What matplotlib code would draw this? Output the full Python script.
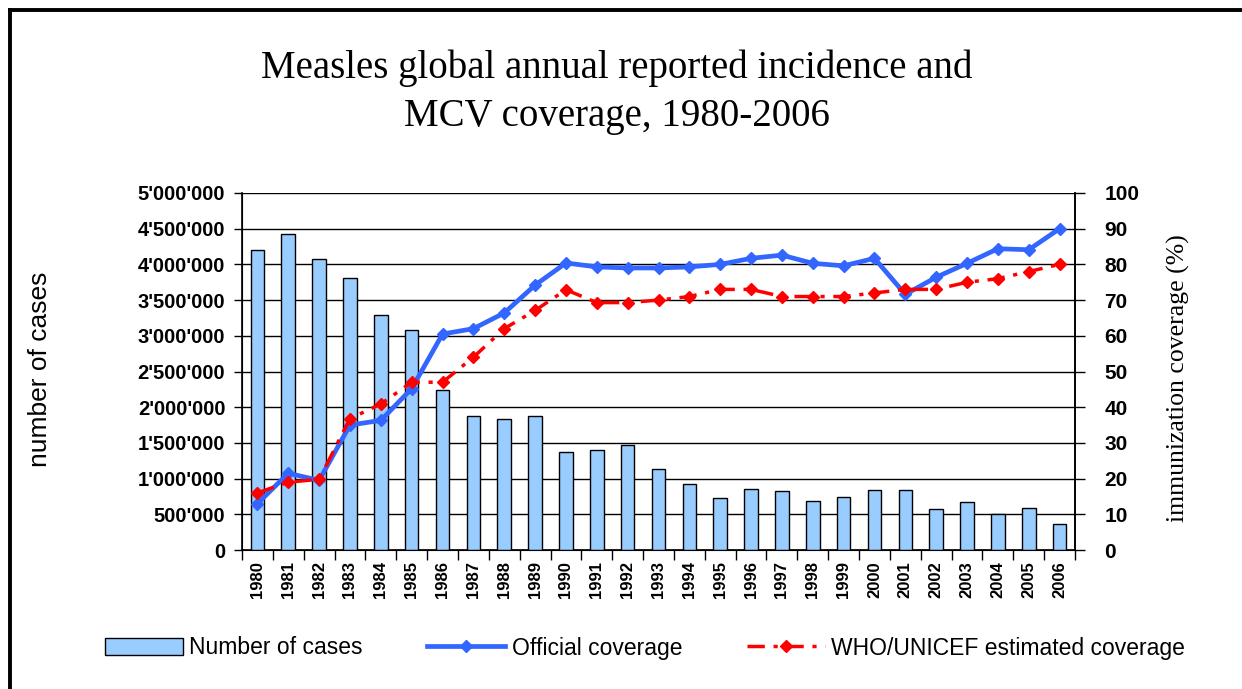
import matplotlib
matplotlib.use("Agg")
import matplotlib.pyplot as plt
import numpy as np
from matplotlib.lines import Line2D
from matplotlib.ticker import FuncFormatter, MultipleLocator, FixedLocator

years = [str(y) for y in range(1980, 2007)]
cases = [4200000, 4425000, 4080000, 3810000, 3285000, 3080000, 2235000, 1880000,
         1830000, 1880000, 1370000, 1400000, 1470000, 1130000, 930000, 725000,
         860000, 830000, 690000, 740000, 845000, 845000, 570000, 670000, 505000,
         590000, 370000]
official = [13, 21.5, 19.5, 35, 36.3, 45.2, 60.5, 62, 66.4, 74.2, 80.4, 79.3, 79,
            79, 79.3, 80, 81.7, 82.6, 80.3, 79.6, 81.7, 71.6, 76.4, 80.3, 84.4,
            84.1, 90]
who_unicef = [16, 19, 19.8, 36.8, 40.9, 47, 47, 54, 62, 67.1, 72.9, 69.3, 69.3,
              70, 71, 73, 73, 71, 71, 71, 72, 73, 73, 75, 76, 78, 80]

W, H = 1242, 689
fig = plt.figure(figsize=(W / 100, H / 100), dpi=100)
fig.patch.set_facecolor("white")

ax = fig.add_axes([242 / W, 1 - 550 / H, (1075 - 242) / W, (550 - 193) / H])
ax2 = ax.twinx()

x = np.arange(len(years))
bars = ax.bar(x, cases, width=0.44, color="#99CCFF", edgecolor="black",
              linewidth=1.0, zorder=3, label="Number of cases")
ax.set_ylim(0, 5000000)
ax.set_xlim(-0.5, len(years) - 0.5)
ax.yaxis.set_major_locator(MultipleLocator(500000))
ax.yaxis.set_major_formatter(FuncFormatter(lambda v, p: f"{int(v):,}".replace(",", "'")))
ax.grid(axis="y", color="black", linewidth=1.0, zorder=0)
ax.set_axisbelow(True)

# category boundary ticks, labels at centers
ax.xaxis.set_major_locator(FixedLocator(np.arange(-0.5, len(years), 1.0)))
ax.xaxis.set_major_formatter(FuncFormatter(lambda v, p: ""))
ax.xaxis.set_minor_locator(FixedLocator(x))
ax.set_xticks(x, minor=True)
ax.set_xticklabels(years, minor=True, rotation=90, fontsize=12,
                   fontweight="bold", family="Liberation Sans")
ax.tick_params(axis="x", which="major", direction="out", length=7, width=1)
ax.tick_params(axis="x", which="minor", length=0, pad=8)
ax.tick_params(axis="y", direction="out", length=6, width=1, pad=6)
for lbl in ax.get_yticklabels():
    lbl.set_fontsize(14.5)
    lbl.set_fontweight("bold")
    lbl.set_family("Liberation Sans")

for s in ["top"]:
    ax.spines[s].set_visible(False)
    ax2.spines[s].set_visible(False)
for s in ["left", "bottom", "right"]:
    ax.spines[s].set_linewidth(1.2)
ax2.spines["right"].set_linewidth(1.2)

l1, = ax2.plot(x, official, color="#3366FF", linewidth=3.4, marker="D",
               markersize=6, zorder=5, label="Official coverage")
l2, = ax2.plot(x, who_unicef, color="#FF0000", linewidth=2.5, marker="D",
               markersize=6, dashes=(5, 2.5, 1.2, 2.5), zorder=6,
               label="WHO/UNICEF estimated coverage")
ax2.set_ylim(0, 100)
ax2.yaxis.set_major_locator(MultipleLocator(10))
ax2.tick_params(axis="y", direction="out", length=7, width=1, pad=14)
for lbl in ax2.get_yticklabels():
    lbl.set_fontsize(15)
    lbl.set_fontweight("bold")
    lbl.set_family("Liberation Sans")
ax.set_zorder(1)
ax2.set_zorder(2)
ax.patch.set_visible(False)

fig.text(40 / W, 1 - 369 / H, "number of cases", rotation=90, ha="center",
         va="center", fontsize=19, family="Liberation Sans")
fig.text(1178 / W, 1 - 378 / H, "immunization coverage (%)", rotation=90,
         ha="center", va="center", fontsize=18.5, family="Liberation Serif")

fig.text(617 / W, 1 - 92 / H,
         "Measles global annual reported incidence and\nMCV coverage, 1980-2006",
         ha="center", va="center", fontsize=28, family="Liberation Serif",
         linespacing=1.4)

leg = fig.legend(handles=[bars, l1, l2], loc="center", ncol=3,
                 bbox_to_anchor=(645 / W, 1 - 648 / H), frameon=False,
                 prop={"family": "Liberation Sans", "size": 16.5},
                 handlelength=3.4, handletextpad=0.3, columnspacing=2.8,
                 handleheight=0.75)

# outer frame (left and top edges visible)
fig.add_artist(Line2D([9.5 / W, 9.5 / W], [0, 1 - 9.5 / H], transform=fig.transFigure,
                      color="black", linewidth=2.8))
fig.add_artist(Line2D([9.5 / W, 1], [1 - 9.5 / H, 1 - 9.5 / H], transform=fig.transFigure,
                      color="black", linewidth=2.8))

fig.savefig("out.png", dpi=100)
